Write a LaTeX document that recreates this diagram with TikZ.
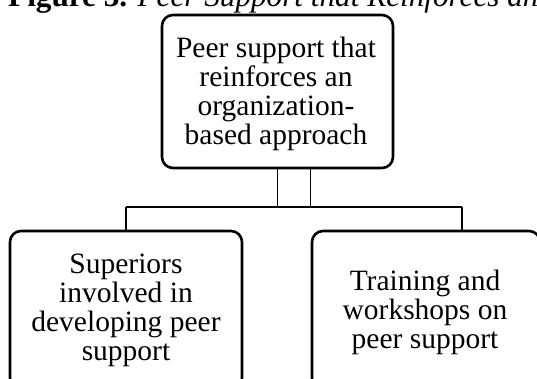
\documentclass[tikz,border=0pt]{standalone}
\usepackage{fontspec}
\setmainfont{Liberation Serif}
\newcommand\myboxtext{\fontsize{29.5}{29}\selectfont\lineskiplimit=-100pt\relax}
\newcommand\mytitletext{\fontsize{31.2}{34}\selectfont}
\begin{document}
\begin{tikzpicture}[x=1pt,y=-1pt,
  box/.style={draw=black, line width=2.6pt, rounded corners=11pt, inner sep=0pt},
  boxtext/.style={align=center, inner sep=0pt, font=\myboxtext},
  conn/.style={draw=black, line width=1.2pt},
  ttl/.style={anchor=base west, inner sep=0pt, font=\mytitletext}]
\useasboundingbox (0,0) rectangle (537,379);
\fill[white] (0,0) rectangle (537,379);
\node[ttl] (title) at (8,7) {\textbf{Figure 3.} \textit{Peer Support that Reinforces an}};
\node[box, minimum width=231pt, minimum height=153pt] (top) at (277.5,91.5) {};
\node[box, minimum width=232pt, minimum height=158pt] (left) at (126,310) {};
\node[box, minimum width=228pt, minimum height=158pt] (right) at (426,310) {};
\node[boxtext] (toptext) at (276,93.5)
  {Peer support that\\reinforces an\\organization-\\based approach};
\node[boxtext] (lefttext) at (126,310)
  {Superiors\\involved in\\developing peer\\support};
\node[boxtext] (righttext) at (425,312)
  {Training and\\workshops on\\peer support};
\coordinate (busL) at (126,207);
\coordinate (busR) at (462,207);
\draw[conn] (top.south) -- (top.south |- busL);
\draw[conn] (right.west |- top.south) -- (right.west |- busL);
\draw[conn] (busL) -- (busR);
\draw[conn] (busL) -- (left.north);
\draw[conn] (busR) -- (busR |- right.north);
\end{tikzpicture}
\end{document}
